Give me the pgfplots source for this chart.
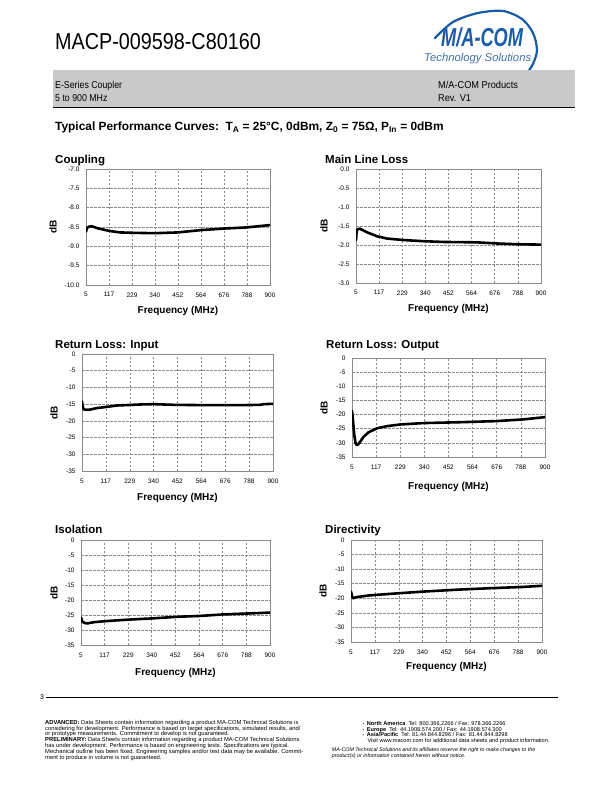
\documentclass[border=0pt]{standalone}
\usepackage{fontspec}
\setmainfont{Liberation Sans}
\usepackage{pgfplots}
\pgfplotsset{compat=1.18}

\definecolor{mablue}{HTML}{1B5CA8}
\definecolor{matext}{HTML}{4071A9}
\definecolor{bandgray}{HTML}{C9C9C9}
\definecolor{gridgray}{HTML}{8A8A8A}

\newcommand{\fs}[1]{\fontsize{#1bp}{#1bp}\selectfont}

% common look of the six datasheet plots: #1 = dB label offset, #2 = frequency label offset
\pgfplotsset{
  dsax/.style 2 args={
    scale only axis, anchor=south west,
    xmin=5, xmax=900,
    xtick={5,117,229,340,452,564,676,788,900},
    xticklabels={5,117,229,340,452,564,676,788,900},
    grid=major,
    major grid style={draw=gridgray, line width=0.5bp, dash pattern=on 2.5bp off 1.5bp},
    axis line style={draw=gridgray, line width=0.8bp},
    major tick length=0pt, tick style={draw=none},
    ticklabel style={font=\fs{6.5}},
    xticklabel style={yshift=-4bp},
    yticklabel style={xshift=-3bp},
    every axis x label/.style={at={(axis description cs:0.5,0)}, anchor=center, yshift=-#2, font=\fs{10}\bfseries},
    every axis y label/.style={at={(axis description cs:0,0.5)}, anchor=center, xshift=-#1, rotate=90, font=\fs{10}\bfseries},
    xlabel={Frequency (MHz)}, ylabel={dB},
  },
  rl/.style={ymin=-35, ymax=0, ytick={-35,-30,-25,-20,-15,-10,-5,0},
    yticklabels={-35,-30,-25,-20,-15,-10,-5,0}},
  curve/.style={black, line width=2.6bp, line join=round, line cap=round, mark=none},
}

\begin{document}
\begin{tikzpicture}[x=1bp, y=-1bp]
\fill[white] (0,0) rectangle (612,792);
\path[use as bounding box] (0,0) rectangle (612,792);

% ---- header ----
\node[anchor=base west, inner sep=0, font=\fs{23}, xscale=0.86] at (55,50) {MACP-009598-C80160};
\draw[mablue, line width=2.2bp, line cap=round] plot[smooth] coordinates
  {(435,38) (453,22) (478,13) (503,11) (522,19) (533,33) (537,50) (533,64) (527,73)};
\node[anchor=base west, inner sep=0, font=\fs{26}\bfseries\itshape, text=mablue, xscale=0.7] at (441,46.7) {M/A-COM};
\node[anchor=base west, inner sep=0, font=\fs{11.3}\itshape, text=matext] at (424,61.7) {Technology Solutions};
\fill[bandgray] (53,70) rectangle (575,107);
\draw[black, line width=1bp] (53,107.5) -- (575,107.5);
\node[anchor=base west, inner sep=0, font=\fs{10}, xscale=0.88] at (55,88.3) {E-Series Coupler};
\node[anchor=base west, inner sep=0, font=\fs{10}, xscale=0.88] at (55,101.7) {5 to 900 MHz};
\node[anchor=base west, inner sep=0, font=\fs{10}, xscale=0.92] at (438,88.3) {M/A-COM Products};
\node[anchor=base west, inner sep=0, font=\fs{10}, xscale=0.92] at (438,101.7) {Rev. V1};
\node[anchor=base west, inner sep=0, font=\fs{11.9}\bfseries] at (55,130.7)
  {Typical Performance Curves:\ \ T\textsubscript{A} = 25°C, 0dBm, Z\textsubscript{0} = 75Ω, P\textsubscript{In} = 0dBm};

% ---- plot titles ----
\node[anchor=base west, inner sep=0, font=\fs{11.5}\bfseries] at (55,163.3) {Coupling};
\node[anchor=base west, inner sep=0, font=\fs{11.5}\bfseries] at (325,163.3) {Main Line Loss};
\node[anchor=base west, inner sep=0, font=\fs{11.5}\bfseries] at (55,348.3) {Return Loss: Input};
\node[anchor=base west, inner sep=0, font=\fs{11.5}\bfseries] at (326,348.3) {Return Loss: Output};
\node[anchor=base west, inner sep=0, font=\fs{11.5}\bfseries] at (55,533.7) {Isolation};
\node[anchor=base west, inner sep=0, font=\fs{11.5}\bfseries] at (325,533.7) {Directivity};

% Coupling
\begin{axis}[dsax={33bp}{26bp}, at={(86bp,-285bp)}, width=184bp, height=116bp,
  ymin=-10, ymax=-7, ytick={-10,-9.5,-9,-8.5,-8,-7.5,-7},
  yticklabels={-10.0,-9.5,-9.0,-8.5,-8.0,-7.5,-7.0}]
\addplot[curve] coordinates {(5,-8.62)(10,-8.52)(20,-8.49)(33,-8.48)(60,-8.53)(117,-8.60)(170,-8.64)
  (229,-8.65)(340,-8.66)(452,-8.64)(564,-8.58)(676,-8.54)(788,-8.51)(900,-8.45)};
\end{axis}

% Main Line Loss
\begin{axis}[dsax={32bp}{26bp}, at={(356bp,-283bp)}, width=185bp, height=114bp,
  ymin=-3, ymax=0, ytick={-3,-2.5,-2,-1.5,-1,-0.5,0},
  yticklabels={-3.0,-2.5,-2.0,-1.5,-1.0,-0.5,0.0}]
\addplot[curve] coordinates {(5,-1.87)(8,-1.65)(12,-1.59)(23,-1.57)(60,-1.67)(107,-1.77)(155,-1.83)
  (236,-1.87)(332,-1.90)(429,-1.92)(590,-1.93)(687,-1.96)(784,-1.98)(900,-1.99)};
\end{axis}

% Return Loss: Input
\begin{axis}[dsax={28bp}{27bp}, rl, at={(82bp,-471bp)}, width=191bp, height=117bp]
\addplot[curve] coordinates {(5,-14.2)(9,-16.0)(15,-16.6)(30,-16.7)(45,-16.6)(72,-16.2)(122,-15.8)
  (169,-15.4)(278,-15.1)(341,-15.0)(435,-15.2)(591,-15.3)(747,-15.3)(841,-15.2)(857,-15.0)(900,-14.9)};
\end{axis}

% Return Loss: Output
\begin{axis}[dsax={28bp}{30bp}, rl, at={(352bp,-457bp)}, width=193bp, height=99bp]
\addplot[curve] coordinates {(5,-18.7)(10,-22.5)(16,-27.5)(22,-30.2)(27,-30.8)(34,-30.5)(42,-29.7)
  (58,-27.9)(81,-26.3)(119,-24.9)(166,-24.1)(228,-23.5)(336,-23.0)(506,-22.7)(676,-22.3)(800,-21.7)(900,-20.9)};
\end{axis}

% Isolation
\begin{axis}[dsax={27bp}{27.5bp}, rl, at={(81bp,-645bp)}, width=189bp, height=105bp]
\addplot[curve] coordinates {(5,-25.8)(12,-27.3)(25,-27.7)(35,-27.8)(65,-27.4)(128,-27.0)(238,-26.5)
  (349,-26.1)(459,-25.6)(569,-25.3)(679,-24.8)(790,-24.5)(900,-24.2)};
\end{axis}

% Directivity
\begin{axis}[dsax={28bp}{25bp}, rl, at={(351bp,-642bp)}, width=191bp, height=102bp]
\addplot[curve] coordinates {(5,-17.7)(10,-19.3)(14,-20.0)(30,-19.6)(92,-19.0)(202,-18.4)(342,-17.7)
  (514,-17.0)(670,-16.5)(811,-16.1)(900,-15.7)};
\end{axis}

% ---- footer ----
\node[anchor=base west, inner sep=0, font=\fs{7}] at (40,699) {3};
\draw[black, line width=0.8bp] (46,697.3) -- (558,697.3);
\begin{scope}[every node/.style={anchor=base west, inner sep=0, font=\fs{5.8}}]
\node at (45,724.3) {\textbf{ADVANCED:} Data Sheets contain information regarding a product MA-COM Technical Solutions is};
\node at (45,730.1) {considering for development. Performance is based on target specifications, simulated results, and/};
\node at (45,735.9) {or prototype measurements. Commitment to develop is not guaranteed.};
\node at (45,741.7) {\textbf{PRELIMINARY:} Data Sheets contain information regarding a product MA-COM Technical Solutions};
\node at (45,747.5) {has under development. Performance is based on engineering tests. Specifications are typical.};
\node at (45,753.3) {Mechanical outline has been fixed. Engineering samples and/or test data may be available. Commit-};
\node at (45,759.1) {ment to produce in volume is not guaranteed.};
\end{scope}
\begin{scope}[every node/.style={anchor=base west, inner sep=0, font=\fs{5.6}}]
\node at (362.5,725) {\fs{4}•};
\node at (362.5,731) {\fs{4}•};
\node at (362.5,736.7) {\fs{4}•};
\node at (366.7,725) {\textbf{North America}\ \ Tel: 800.366.2266 / Fax: 978.366.2266};
\node at (366.7,731) {\textbf{Europe}\ \ Tel: 44.1908.574.200 / Fax: 44.1908.574.300};
\node at (366.7,736.7) {\textbf{Asia/Pacific}\ \ Tel: 81.44.844.8296 / Fax: 81.44.844.8298};
\node at (367.3,742.3) {Visit www.macom.com for additional data sheets and product information.};
\node[font=\fs{5.3}\itshape] at (331.7,751.3) {MA-COM Technical Solutions and its affiliates reserve the right to make changes to the};
\node[font=\fs{5.3}\itshape] at (331.7,757.3) {product(s) or information contained herein without notice.};
\end{scope}
\end{tikzpicture}
\end{document}
